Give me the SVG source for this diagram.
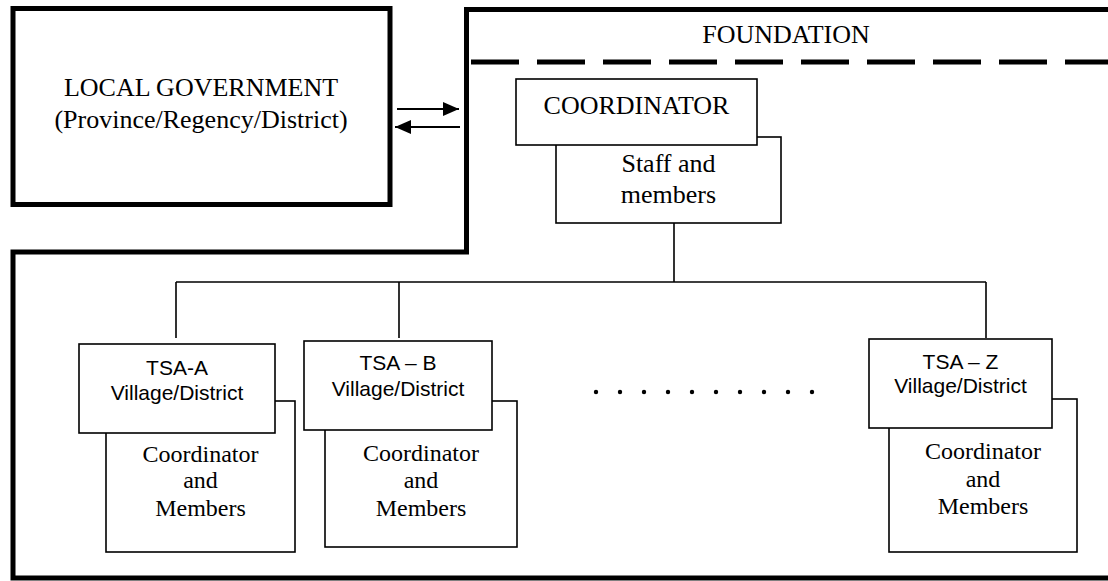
<svg xmlns="http://www.w3.org/2000/svg" width="1108" height="581" viewBox="0 0 1108 581">
<defs>
<style>
.thick{fill:none;stroke:#000;stroke-width:5}
.box{fill:#fff;stroke:#000;stroke-width:1.6}
.ln{fill:none;stroke:#000;stroke-width:1.6}
.serif{font-family:"Liberation Serif","Times New Roman",serif;font-size:26px;fill:#000;text-anchor:middle}
.sserif{font-family:"Liberation Serif","Times New Roman",serif;font-size:24px;fill:#000;text-anchor:middle}
.sans{font-family:"Liberation Sans",Arial,sans-serif;font-size:21px;fill:#000;text-anchor:middle}
</style>
<marker id="ah" viewBox="0 0 16 14" refX="16" refY="7" markerWidth="16" markerHeight="14" markerUnits="userSpaceOnUse" orient="auto">
<path d="M0,0 L16,7 L0,14 z" fill="#000"/>
</marker>
</defs>
<rect width="1108" height="581" fill="#fff"/>

<g id="foundation">
<path class="thick" d="M1108 9.5 H466.5 V252 H13 V578 H1108"/>
<line x1="471" y1="62" x2="1108" y2="62" stroke="#000" stroke-width="5" stroke-dasharray="48 18"/>
<text class="serif" x="786" y="43">FOUNDATION</text>
</g>

<g id="local-government">
<rect class="thick" x="13" y="8.5" width="377" height="196"/>
<text class="serif" x="201" y="96">LOCAL GOVERNMENT</text>
<text class="serif" x="201" y="128">(Province/Regency/District)</text>
</g>

<g id="connectors">
<line x1="397" y1="109" x2="459" y2="109" stroke="#000" stroke-width="2.2" marker-end="url(#ah)"/>
<line x1="460" y1="127" x2="395" y2="127" stroke="#000" stroke-width="2.2" marker-end="url(#ah)"/>
<path class="ln" d="M674 223 V282 M176 282 H986 M176 282 V338 M399 282 V338 M986 282 V338"/>
</g>

<g id="staff">
<rect class="box" x="556" y="137" width="225" height="86"/>
<text class="serif" x="668.5" y="172">Staff and</text>
<text class="serif" x="668.5" y="203">members</text>
</g>
<g id="coordinator">
<rect class="box" x="516" y="79" width="241" height="66"/>
<text class="serif" x="636.5" y="114">COORDINATOR</text>
</g>

<g id="members-a">
<rect class="box" x="106" y="401" width="189" height="151"/>
<text class="sserif" x="200.5" y="462">Coordinator</text>
<text class="sserif" x="200.5" y="488">and</text>
<text class="sserif" x="200.5" y="516">Members</text>
</g>
<g id="tsa-a">
<rect class="box" x="79" y="344" width="196" height="89"/>
<text class="sans" x="177" y="375">TSA-A</text>
<text class="sans" x="177" y="400">Village/District</text>
</g>

<g id="members-b">
<rect class="box" x="325" y="401" width="192" height="146"/>
<text class="sserif" x="421" y="461">Coordinator</text>
<text class="sserif" x="421" y="488">and</text>
<text class="sserif" x="421" y="516">Members</text>
</g>
<g id="tsa-b">
<rect class="box" x="304" y="341" width="188" height="89"/>
<text class="sans" x="398" y="370">TSA – B</text>
<text class="sans" x="398" y="396">Village/District</text>
</g>

<g id="ellipsis" fill="#000">
<circle cx="596" cy="392" r="2.2"/><circle cx="620" cy="392" r="2.2"/><circle cx="644" cy="392" r="2.2"/><circle cx="668" cy="392" r="2.2"/><circle cx="692" cy="392" r="2.2"/>
<circle cx="716" cy="392" r="2.2"/><circle cx="740" cy="392" r="2.2"/><circle cx="764" cy="392" r="2.2"/><circle cx="788" cy="392" r="2.2"/><circle cx="812" cy="392" r="2.2"/>
</g>

<g id="members-z">
<rect class="box" x="889" y="399" width="188" height="153"/>
<text class="sserif" x="983" y="459">Coordinator</text>
<text class="sserif" x="983" y="487">and</text>
<text class="sserif" x="983" y="514">Members</text>
</g>
<g id="tsa-z">
<rect class="box" x="869" y="339" width="183" height="89"/>
<text class="sans" x="960.5" y="369">TSA – Z</text>
<text class="sans" x="960.5" y="393">Village/District</text>
</g>
</svg>
